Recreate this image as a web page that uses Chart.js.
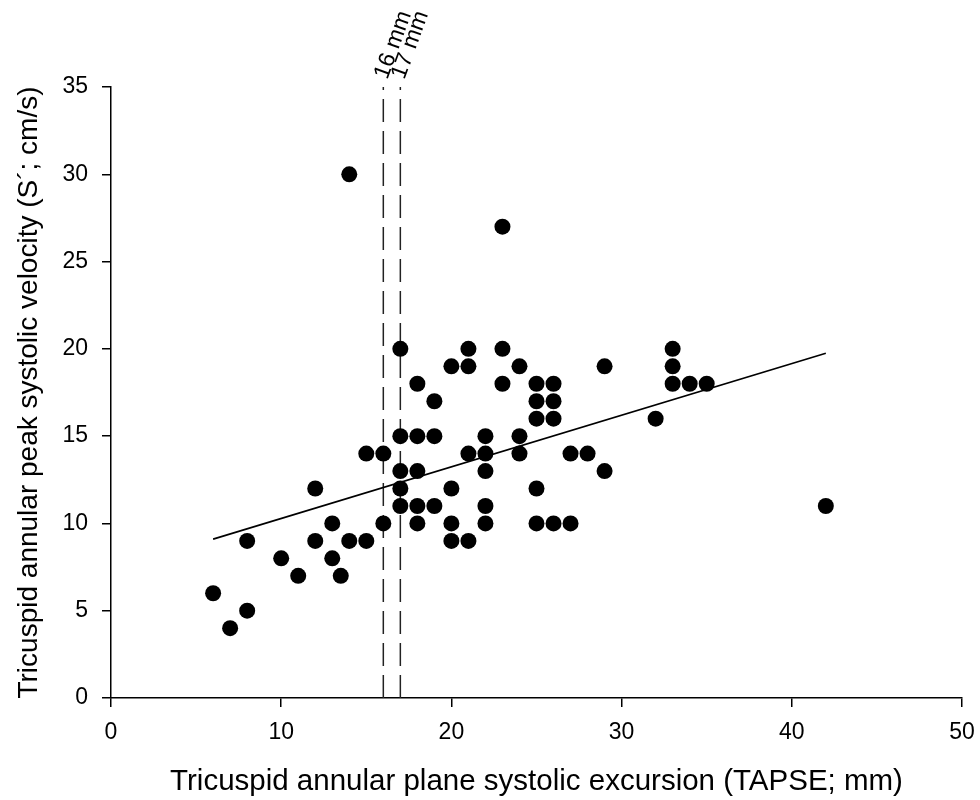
<!DOCTYPE html>
<html>
<head>
<meta charset="utf-8">
<script src="https://cdn.jsdelivr.net/npm/chart.js@4/dist/chart.umd.min.js"></script>
<style>
html,body{margin:0;padding:0;background:#fff;}
#wrap{width:980px;height:800px;}
</style>
</head>
<body>
<div id="wrap"><canvas id="c" width="980" height="800"></canvas></div>
<script>
// Data
const tapse = [6,7,8,8,10,11,12,12,13,13,13.5,14,14,15,15,16,16,17,17,17,17,17,18,18,18,18,18,19,19,19,20,20,20,20,21,21,21,21,22,22,22,22,22,23,23,23,24,24,24,25,25,25,25,25,26,26,26,26,27,27,28,29,29,32,33,33,33,34,35,42];
const sPrime = [6,4,5,9,8,7,12,9,10,8,7,9,30,9,14,14,10,20,15,13,12,11,18,15,13,11,10,17,15,11,19,12,10,9,20,19,14,9,15,14,13,11,10,27,20,18,19,15,14,18,17,16,12,10,18,17,16,10,14,10,14,19,13,16,20,19,18,18,18,11];
const fitX = [6, 42];
const fitY = [9.1, 19.75];
const cutoffs = [16, 17];
const cutoffLabels = ['16 mm', '17 mm'];
const xTicks = [0,10,20,30,40,50];
const yTicks = [0,5,10,15,20,25,30,35];
const xTitle = 'Tricuspid annular plane systolic excursion (TAPSE; mm)';
const yTitle = 'Tricuspid annular peak systolic velocity (S\u00B4; cm/s)';

const FONT = '"Liberation Sans", Arial, sans-serif';

const scatterData = tapse.map((x, i) => ({x: x, y: sPrime[i]}));
const fitData = fitX.map((x, i) => ({x: x, y: fitY[i]}));

const datasets = [];
cutoffs.forEach(c => {
  datasets.push({
    type: 'line',
    data: [{x: c, y: yTicks[0]}, {x: c, y: yTicks[yTicks.length - 1]}],
    borderColor: '#222',
    borderWidth: 1.5,
    borderDash: [23, 9],
    pointRadius: 0,
    fill: false,
    order: 3
  });
});
datasets.push({
  type: 'line',
  data: fitData,
  borderColor: '#000',
  borderWidth: 1.6,
  pointRadius: 0,
  fill: false,
  order: 2
});
datasets.push({
  type: 'scatter',
  data: scatterData,
  backgroundColor: '#000',
  borderColor: '#000',
  borderWidth: 0,
  pointRadius: 8,
  order: 1
});

const cutoffLabelPlugin = {
  id: 'cutoffLabels',
  afterDraw(chart) {
    const ctx = chart.ctx;
    const xs = chart.scales.x;
    const top = chart.chartArea.top;
    ctx.save();
    ctx.fillStyle = '#000';
    ctx.font = '23px ' + FONT;
    ctx.textAlign = 'left';
    ctx.textBaseline = 'middle';
    cutoffs.forEach((c, i) => {
      const px = xs.getPixelForValue(c);
      ctx.save();
      ctx.translate(px - 2, top - 9);
      ctx.rotate(-70 * Math.PI / 180);
      ctx.fillText(cutoffLabels[i], 0, 0);
      ctx.restore();
    });
    ctx.restore();
  }
};

new Chart(document.getElementById('c'), {
  type: 'scatter',
  data: {datasets: datasets},
  plugins: [cutoffLabelPlugin],
  options: {
    responsive: false,
    animation: false,
    devicePixelRatio: 1,
    layout: {padding: {top: 87, right: 18, left: 0, bottom: 0}},
    plugins: {legend: {display: false}, tooltip: {enabled: false}},
    scales: {
      x: {
        type: 'linear',
        min: xTicks[0],
        max: xTicks[xTicks.length - 1],
        afterBuildTicks: s => { s.ticks = xTicks.map(v => ({value: v})); },
        afterFit: s => { s.height = 102; s.paddingLeft = 0; s.paddingRight = 0; },
        ticks: {color: '#000', font: {family: FONT, size: 23}, padding: 12, maxRotation: 0},
        grid: {drawOnChartArea: false, drawTicks: true, tickLength: 9, color: '#000', lineWidth: 1.5},
        border: {display: true, color: '#000', width: 1.5},
        title: {display: true, text: xTitle, color: '#000', font: {family: FONT, size: 29.5}, padding: {top: 0, bottom: 0}}
      },
      y: {
        type: 'linear',
        min: yTicks[0],
        max: yTicks[yTicks.length - 1],
        afterBuildTicks: s => { s.ticks = yTicks.map(v => ({value: v})); },
        afterFit: s => { s.width = 111; s.paddingTop = 0; s.paddingBottom = 0; },
        ticks: {color: '#000', font: {family: FONT, size: 23}, padding: 14},
        grid: {drawOnChartArea: false, drawTicks: true, tickLength: 9, color: '#000', lineWidth: 1.5},
        border: {display: true, color: '#000', width: 1.5},
        title: {display: true, text: yTitle, color: '#000', font: {family: FONT, size: 28}, padding: {top: 12, bottom: 0}}
      }
    }
  }
});
</script>
</body>
</html>
